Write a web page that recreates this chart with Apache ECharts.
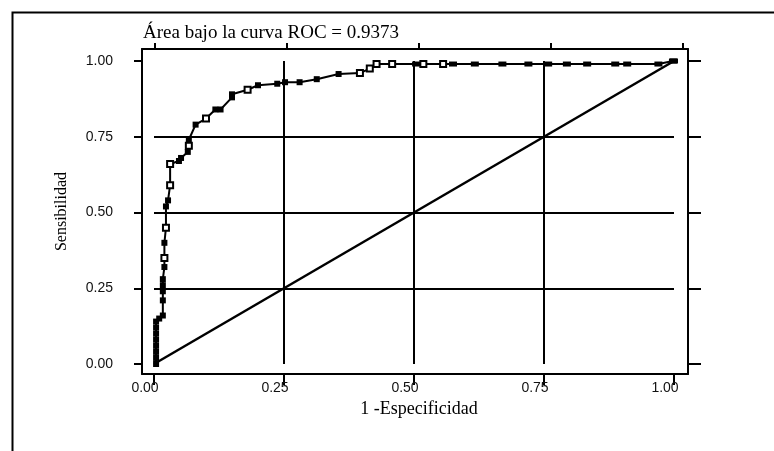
<!DOCTYPE html>
<html>
<head>
<meta charset="utf-8">
<script src="https://cdn.jsdelivr.net/npm/echarts@6/dist/echarts.min.js"></script>
<style>
html,body{margin:0;padding:0;background:#fff;}
#chart{width:774px;height:451px;}
</style>
</head>
<body>
<div id="chart"></div>
<script>
// ---- data ----
const titleText = 'Área bajo la curva ROC = 0.9373';
const xName = '1 -Especificidad';
const yName = 'Sensibilidad';
const tickValues = [0, 0.25, 0.5, 0.75, 1];
const tickLabels = ['0.00', '0.25', '0.50', '0.75', '1.00'];

// ROC curve: 1 - specificity, sensitivity, hollow marker (1) or filled (0)
const rocFPR = [0.004,0.004,0.004,0.004,0.004,0.004,0.004,0.004,0.010,0.017,0.017,0.017,0.017,0.017,0.020,0.020,0.020,0.023,0.023,0.027,0.031,0.031,0.048,0.052,0.065,0.067,0.067,0.080,0.100,0.118,0.128,0.150,0.150,0.180,0.200,0.237,0.252,0.280,0.313,0.355,0.396,0.415,0.428,0.458,0.504,0.518,0.556,0.575,0.617,0.670,0.720,0.758,0.794,0.833,0.887,0.910,0.970,0.998,1.000];
const rocTPR = [0.00,0.02,0.04,0.06,0.08,0.10,0.12,0.14,0.15,0.16,0.21,0.24,0.26,0.28,0.32,0.35,0.40,0.45,0.52,0.54,0.59,0.66,0.67,0.68,0.70,0.72,0.74,0.79,0.81,0.84,0.84,0.88,0.89,0.905,0.92,0.925,0.93,0.93,0.94,0.957,0.96,0.975,0.99,0.99,0.99,0.99,0.99,0.99,0.99,0.99,0.99,0.99,0.99,0.99,0.99,0.99,0.99,1.00,1.00];
const rocHollow = [0,0,0,0,0,0,0,0,0,0,0,0,0,0,0,1,0,1,0,0,1,1,0,0,0,1,0,0,1,0,0,0,0,1,0,0,0,0,0,0,1,1,1,1,0,1,1,0,0,0,0,0,0,0,0,0,0,0,0];

// reference (chance) line
const diagFPR = [0, 1];
const diagTPR = [0, 1];

// ---- chart ----
const rocData = rocFPR.map((x, i) => {
  const hollow = rocHollow[i] === 1;
  return {
    value: [x, rocTPR[i]],
    symbolSize: hollow ? 6 : (rocTPR[i] >= 0.99 ? [8, 5] : 6),
    itemStyle: hollow
      ? { color: '#fff', borderColor: '#000', borderWidth: 2 }
      : { color: '#000', borderWidth: 0 }
  };
});
const diagData = diagFPR.map((x, i) => [x, diagTPR[i]]);

const black = '#000';
const serif = 'Liberation Serif';
const sans = 'Liberation Sans';
const labelFmt = v => tickLabels[tickValues.indexOf(+(+v).toFixed(2))] ?? '';

const chart = echarts.init(document.getElementById('chart'), null, { renderer: 'canvas' });
chart.setOption({
  animation: false,
  backgroundColor: '#fff',
  title: {
    text: titleText,
    left: 143, top: 24, padding: 0,
    textStyle: { fontFamily: serif, fontSize: 19, fontWeight: 'normal', color: black }
  },
  graphic: [{
    type: 'rect', left: 10, top: 10,
    shape: { width: 900, height: 600 },
    style: { fill: 'none', stroke: black, lineWidth: 2 },
    silent: true
  }],
  grid: [
    { left: 142, right: 86, top: 49, bottom: 77 },
    { left: 154, right: 100, top: 61, bottom: 87 }
  ],
  xAxis: [
    {
      gridIndex: 0, type: 'value', position: 'bottom',
      min: -0.0231, max: 1.0269,
      axisLine: { show: true, onZero: false, lineStyle: { color: black, width: 2 } },
      axisTick: { show: false },
      axisLabel: {
        show: true, customValues: tickValues, formatter: labelFmt,
        fontFamily: sans, fontSize: 14, color: '#111', margin: 7, padding: [0, 18, 0, 0]
      },
      splitLine: { show: false },
      name: xName, nameLocation: 'middle', nameGap: 21,
      nameTextStyle: { fontFamily: serif, fontSize: 18, color: black, padding: [0, 0, 0, 8] }
    },
    {
      gridIndex: 0, type: 'value', position: 'top',
      min: -0.0246, max: 1.0095,
      axisLine: { show: true, onZero: false, lineStyle: { color: black, width: 2 } },
      axisTick: { show: true, customValues: tickValues, length: 6, lineStyle: { color: black, width: 2 } },
      axisLabel: { show: false },
      splitLine: { show: false }
    },
    {
      gridIndex: 1, type: 'value', min: 0, max: 1, interval: 0.25,
      axisLine: { show: false }, axisTick: { show: false }, axisLabel: { show: false },
      splitLine: { show: true, showMinLine: false, showMaxLine: false, lineStyle: { color: black, width: 2 } }
    },
    {
      gridIndex: 0, type: 'value', position: 'bottom',
      min: -0.0231, max: 1.0269,
      axisLine: { show: false, onZero: false },
      axisTick: { show: true, customValues: tickValues, length: 11, inside: false, lineStyle: { color: black, width: 2 } },
      axisLabel: { show: false },
      splitLine: { show: false }
    }
  ],
  yAxis: [
    {
      gridIndex: 0, type: 'value', position: 'left',
      min: -0.033, max: 1.0396,
      axisLine: { show: true, onZero: false, lineStyle: { color: black, width: 2 } },
      axisTick: { show: true, customValues: tickValues, length: 8, lineStyle: { color: black, width: 2 } },
      axisLabel: {
        show: true, customValues: tickValues, formatter: labelFmt,
        fontFamily: sans, fontSize: 14, color: '#111', margin: 29
      },
      splitLine: { show: false },
      name: yName, nameLocation: 'middle', nameGap: 72, nameRotate: 90,
      nameTextStyle: { fontFamily: serif, fontSize: 16, color: black }
    },
    {
      gridIndex: 0, type: 'value', position: 'right',
      min: -0.033, max: 1.0396,
      axisLine: { show: true, onZero: false, lineStyle: { color: black, width: 2 } },
      axisTick: { show: true, customValues: tickValues, length: 13, lineStyle: { color: black, width: 2 } },
      axisLabel: { show: false },
      splitLine: { show: false }
    },
    {
      gridIndex: 1, type: 'value', min: 0, max: 1, interval: 0.25,
      axisLine: { show: false }, axisTick: { show: false }, axisLabel: { show: false },
      splitLine: { show: true, showMinLine: false, showMaxLine: false, lineStyle: { color: black, width: 2 } }
    }
  ],
  series: [
    {
      type: 'line', xAxisIndex: 2, yAxisIndex: 2,
      data: diagData, symbol: 'none', clip: false,
      lineStyle: { color: black, width: 2.5 }
    },
    {
      type: 'line', xAxisIndex: 2, yAxisIndex: 2,
      data: rocData, symbol: 'rect', showAllSymbol: true, clip: false,
      lineStyle: { color: black, width: 2 },
      itemStyle: { color: black },
      z: 5
    }
  ]
});
</script>
</body>
</html>
